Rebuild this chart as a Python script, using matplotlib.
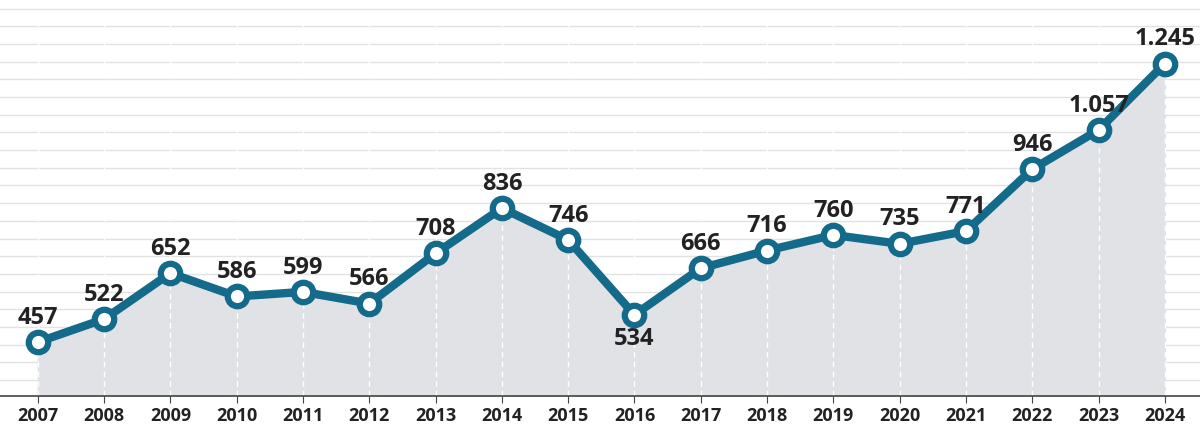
import matplotlib
matplotlib.use("Agg")
import matplotlib.pyplot as plt
import numpy as np

years = list(range(2007, 2025))
values = [457, 522, 652, 586, 599, 566, 708, 836, 746, 534, 666, 716, 760, 735, 771, 946, 1057, 1245]
labels = ["457", "522", "652", "586", "599", "566", "708", "836", "746", "534", "666", "716", "760", "735", "771", "946", "1.057", "1.245"]

plt.rcParams['font.family'] = ['Open Sans', 'DejaVu Sans']
fig = plt.figure(figsize=(12, 4.34), dpi=100)
ax = fig.add_axes([0, 0.088, 1, 0.9])
ax.set_xlim(2006.43, 2024.53)
ax.set_ylim(305, 1410)
for y in np.arange(350, 1410, 50):
    ax.axhline(y, color='#e2e2e2', lw=1, zorder=0)
ax.fill_between(years, values, 305, color='#e1e2e5', zorder=1)
for x in years:
    ax.axvline(x, color='white', lw=1, ls=(0, (4, 3)), zorder=2)
col = '#136a8a'
ax.plot(years, values, color=col, lw=6, zorder=3, solid_capstyle='round')
ax.plot(years, values, 'o', ms=14, mfc='white', mec=col, mew=4.5, zorder=4)
for x, v, l in zip(years, values, labels):
    if l == "534":
        ax.text(x, v - 35, l, ha='center', va='top', fontsize=17, fontweight='bold', color='#222222')
    else:
        ax.text(x, v + 35, l, ha='center', va='bottom', fontsize=17, fontweight='bold', color='#222222')
ax.set_xticks(years)
ax.set_xticklabels([str(y) for y in years], fontsize=13, fontweight='bold', color='#222222')
ax.set_yticks([])
for s in ['top', 'right', 'left']:
    ax.spines[s].set_visible(False)
ax.spines['bottom'].set_color('#444444')
ax.spines['bottom'].set_linewidth(1.2)
ax.tick_params(axis='x', length=5, color='#444444', pad=3)
fig.savefig('out.png', dpi=100)
